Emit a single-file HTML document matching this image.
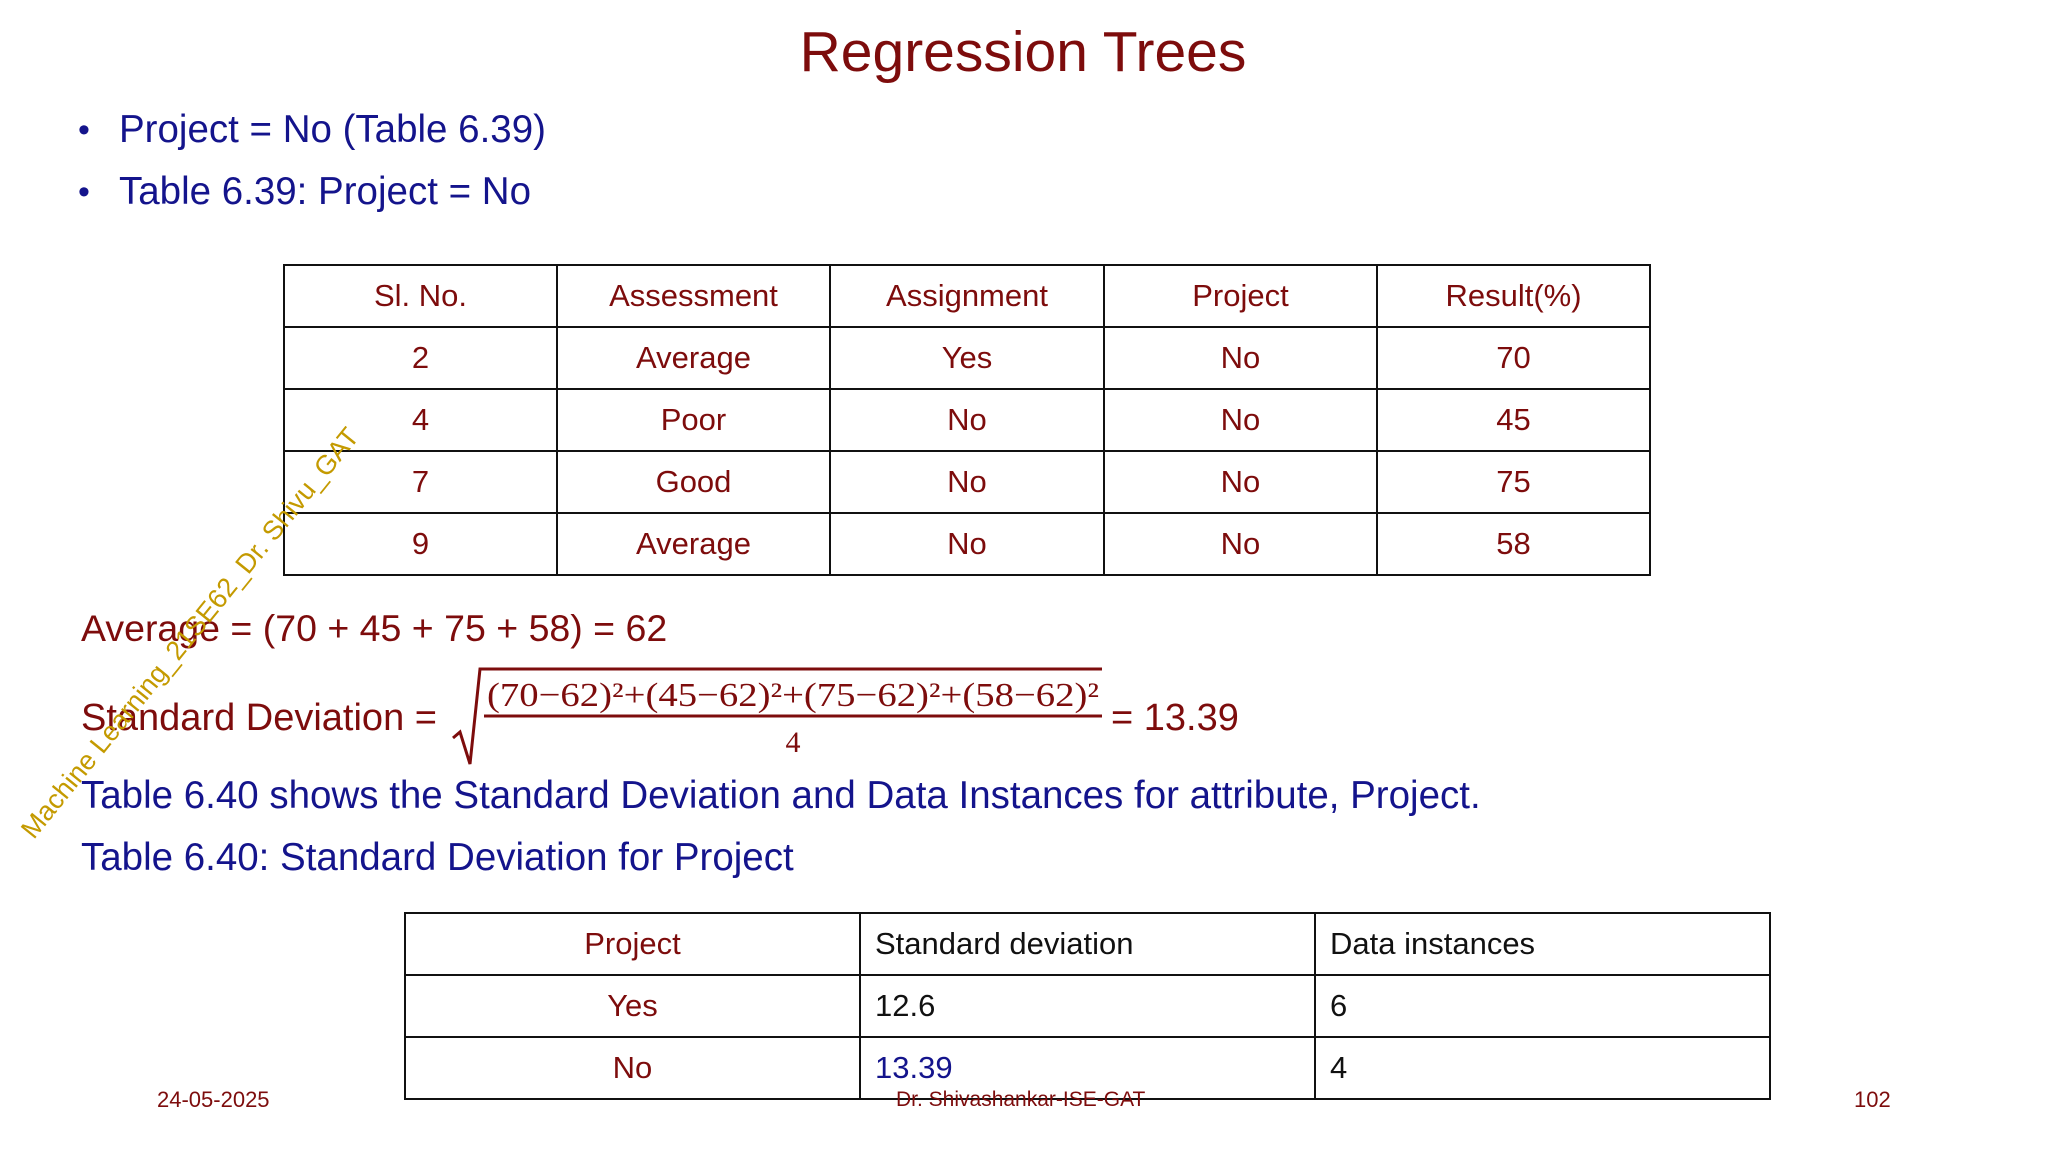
<!DOCTYPE html>
<html><head><meta charset="utf-8">
<style>
html,body{margin:0;padding:0;background:#fff;}
#slide{position:relative;width:2048px;height:1152px;overflow:hidden;background:#fff;font-family:"Liberation Sans",sans-serif;}
.t{position:absolute;white-space:nowrap;line-height:40px;height:40px;}
.red{color:#7d0c0c;}
.blue{color:#14148c;}
table{position:absolute;border-collapse:collapse;table-layout:fixed;font-family:"Liberation Sans",sans-serif;}
td{border:2.5px solid #111;padding:0;font-size:31px;color:#7d0c0c;text-align:center;}
</style></head>
<body>
<div id="slide">
  <div class="t red" style="left:0;width:2046px;text-align:center;top:20px;height:64px;line-height:64px;font-size:57px;">Regression Trees</div>

  <div class="t" style="left:78px;top:110px;font-size:34px;color:#14148c;">•</div>
  <div class="t blue" style="left:119px;top:110px;font-size:38.5px;">Project = No (Table 6.39)</div>
  <div class="t" style="left:78px;top:172px;font-size:34px;color:#14148c;">•</div>
  <div class="t blue" style="left:119px;top:172px;font-size:38.5px;">Table 6.39: Project = No</div>

  <table style="left:283px;top:264px;width:1366px;">
    <colgroup><col style="width:273px"><col style="width:273px"><col style="width:274px"><col style="width:273px"><col style="width:273px"></colgroup>
    <tr style="height:62px"><td>Sl. No.</td><td>Assessment</td><td>Assignment</td><td>Project</td><td>Result(%)</td></tr>
    <tr style="height:62px"><td>2</td><td>Average</td><td>Yes</td><td>No</td><td>70</td></tr>
    <tr style="height:62px"><td>4</td><td>Poor</td><td>No</td><td>No</td><td>45</td></tr>
    <tr style="height:62px"><td>7</td><td>Good</td><td>No</td><td>No</td><td>75</td></tr>
    <tr style="height:62px"><td>9</td><td>Average</td><td>No</td><td>No</td><td>58</td></tr>
  </table>

  <div class="t red" style="left:81px;top:608px;font-size:37.5px;">Average = (70 + 45 + 75 + 58) = 62</div>

  <div class="t red" style="left:81px;top:698px;font-size:38px;">Standard Deviation =</div>
  <svg style="position:absolute;left:440px;top:660px;" width="800" height="110">
    <polyline points="13,78 20,72 30,104 40,9 662,9" fill="none" stroke="#7d0c0c" stroke-width="3"/>
    <line x1="44" y1="56" x2="662" y2="56" stroke="#7d0c0c" stroke-width="3"/>
    <text x="353" y="46" text-anchor="middle" textLength="612" lengthAdjust="spacingAndGlyphs" font-family="Liberation Serif" font-size="34" fill="#7d0c0c">(70−62)²+(45−62)²+(75−62)²+(58−62)²</text>
    <text x="353" y="92" text-anchor="middle" font-family="Liberation Serif" font-size="30" fill="#7d0c0c">4</text>
  </svg>
  <div class="t red" style="left:1111px;top:698px;font-size:38px;">= 13.39</div>

  <div class="t blue" style="left:81px;top:776px;font-size:38.5px;">Table 6.40 shows the Standard Deviation and Data Instances for attribute, Project.</div>
  <div class="t blue" style="left:81px;top:838px;font-size:38.5px;">Table 6.40: Standard Deviation for Project</div>

  <table style="left:404px;top:912px;width:1365px;">
    <colgroup><col style="width:455px"><col style="width:455px"><col style="width:455px"></colgroup>
    <tr style="height:62px"><td>Project</td><td style="text-align:left;padding-left:14px;color:#111">Standard deviation</td><td style="text-align:left;padding-left:14px;color:#111">Data instances</td></tr>
    <tr style="height:62px"><td>Yes</td><td style="text-align:left;padding-left:14px;color:#111">12.6</td><td style="text-align:left;padding-left:14px;color:#111">6</td></tr>
    <tr style="height:62px"><td>No</td><td style="text-align:left;padding-left:14px;color:#14148c">13.39</td><td style="text-align:left;padding-left:14px;color:#111">4</td></tr>
  </table>

  <div class="t red" style="left:157px;top:1080px;font-size:22px;">24-05-2025</div>
  <div class="t red" style="left:896px;top:1080px;font-size:21px;">Dr. Shivashankar-ISE-GAT</div>
  <div class="t red" style="left:1854px;top:1080px;font-size:22px;">102</div>

  <div class="t" style="left:190px;top:633px;color:#c49a00;font-size:27px;transform:translate(-50%,-50%) rotate(-51deg);">Machine Learning_21SE62_Dr. Shivu_GAT</div>
</div>
</body></html>
